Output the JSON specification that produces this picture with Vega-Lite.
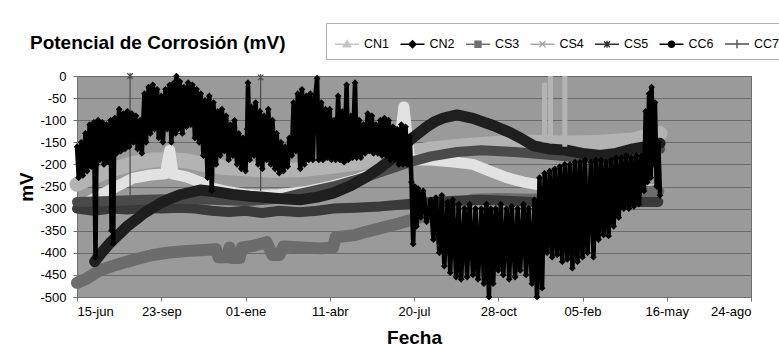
{
"$schema": "https://vega.github.io/schema/vega-lite/v6.json",
"width": 674, "height": 221,
"autosize": {"type": "none"},
"padding": {"left": 77, "top": 76, "right": 28, "bottom": 49},
"background": "white",
"title": {"text": "Potencial de Corrosión (mV)", "anchor": "start", "frame": "group", "dx": -47, "offset": -30, "fontSize": 19, "fontWeight": "bold", "font": "Liberation Sans", "color": "#000"},
"config": {"font": "Liberation Sans", "view": {"fill": "#9a9a9a", "stroke": "#707070", "strokeWidth": 1}},
"datasets": {
"spk": [
{"s":"CS5","d":63,"v":0,"b":-270},{"s":"CS5","d":218,"v":-3,"b":-260},
{"s":"CS4","d":555,"v":-15,"b":-150},{"s":"CS4","d":562,"v":0,"b":-150},{"s":"CS4","d":579,"v":0,"b":-160}
],
"main": [
{"s":"CS4","d":0,"v":-245},{"s":"CS4","d":15,"v":-232},{"s":"CS4","d":30,"v":-220},{"s":"CS4","d":50,"v":-207},{"s":"CS4","d":70,"v":-196},{"s":"CS4","d":90,"v":-190},{"s":"CS4","d":110,"v":-189},{"s":"CS4","d":130,"v":-192},{"s":"CS4","d":150,"v":-200},{"s":"CS4","d":175,"v":-207},{"s":"CS4","d":200,"v":-210},{"s":"CS4","d":230,"v":-213},{"s":"CS4","d":265,"v":-212},{"s":"CS4","d":300,"v":-205},{"s":"CS4","d":340,"v":-195},{"s":"CS4","d":380,"v":-178},{"s":"CS4","d":420,"v":-165},{"s":"CS4","d":460,"v":-158},{"s":"CS4","d":500,"v":-152},{"s":"CS4","d":540,"v":-150},{"s":"CS4","d":580,"v":-152},{"s":"CS4","d":620,"v":-150},{"s":"CS4","d":660,"v":-145},{"s":"CS4","d":680,"v":-135},{"s":"CS4","d":692,"v":-130},
{"s":"CN1","d":8,"v":-288},{"s":"CN1","d":13,"v":-285},{"s":"CN1","d":25,"v":-272},{"s":"CN1","d":39,"v":-258},{"s":"CN1","d":53,"v":-244},{"s":"CN1","d":67,"v":-231},{"s":"CN1","d":87,"v":-224},{"s":"CN1","d":105,"v":-221},{"s":"CN1","d":110,"v":-168},{"s":"CN1","d":114,"v":-222},{"s":"CN1","d":130,"v":-228},{"s":"CN1","d":146,"v":-240},{"s":"CN1","d":162,"v":-254},{"s":"CN1","d":180,"v":-262},{"s":"CN1","d":200,"v":-268},{"s":"CN1","d":220,"v":-270},{"s":"CN1","d":240,"v":-268},{"s":"CN1","d":270,"v":-262},{"s":"CN1","d":300,"v":-250},{"s":"CN1","d":330,"v":-235},{"s":"CN1","d":360,"v":-215},{"s":"CN1","d":380,"v":-195},{"s":"CN1","d":388,"v":-70},{"s":"CN1","d":395,"v":-190},{"s":"CN1","d":420,"v":-190},{"s":"CN1","d":450,"v":-195},{"s":"CN1","d":470,"v":-200},{"s":"CN1","d":490,"v":-215},{"s":"CN1","d":510,"v":-230},{"s":"CN1","d":530,"v":-240},{"s":"CN1","d":560,"v":-250},{"s":"CN1","d":600,"v":-255},{"s":"CN1","d":640,"v":-258},{"s":"CN1","d":690,"v":-258},
{"s":"CS3","d":0,"v":-468},{"s":"CS3","d":10,"v":-460},{"s":"CS3","d":27,"v":-440},{"s":"CS3","d":45,"v":-428},{"s":"CS3","d":67,"v":-416},{"s":"CS3","d":90,"v":-405},{"s":"CS3","d":107,"v":-400},{"s":"CS3","d":130,"v":-396},{"s":"CS3","d":146,"v":-394},{"s":"CS3","d":165,"v":-392},{"s":"CS3","d":168,"v":-410},{"s":"CS3","d":178,"v":-410},{"s":"CS3","d":181,"v":-388},{"s":"CS3","d":184,"v":-412},{"s":"CS3","d":193,"v":-412},{"s":"CS3","d":196,"v":-388},{"s":"CS3","d":210,"v":-384},{"s":"CS3","d":225,"v":-376},{"s":"CS3","d":232,"v":-405},{"s":"CS3","d":240,"v":-405},{"s":"CS3","d":245,"v":-386},{"s":"CS3","d":265,"v":-388},{"s":"CS3","d":290,"v":-390},{"s":"CS3","d":304,"v":-388},{"s":"CS3","d":307,"v":-365},{"s":"CS3","d":330,"v":-360},{"s":"CS3","d":344,"v":-352},{"s":"CS3","d":365,"v":-342},{"s":"CS3","d":383,"v":-333},{"s":"CS3","d":403,"v":-322},{"s":"CS3","d":423,"v":-311},{"s":"CS3","d":440,"v":-298},{"s":"CS3","d":451,"v":-288},{"s":"CS3","d":470,"v":-280},{"s":"CS3","d":500,"v":-278},{"s":"CS3","d":540,"v":-280},{"s":"CS3","d":580,"v":-275},{"s":"CS3","d":620,"v":-270},{"s":"CS3","d":660,"v":-265},{"s":"CS3","d":690,"v":-260},
{"s":"CC7","d":0,"v":-300},{"s":"CC7","d":20,"v":-305},{"s":"CC7","d":40,"v":-300},{"s":"CC7","d":60,"v":-302},{"s":"CC7","d":80,"v":-298},{"s":"CC7","d":100,"v":-300},{"s":"CC7","d":120,"v":-298},{"s":"CC7","d":140,"v":-300},{"s":"CC7","d":160,"v":-305},{"s":"CC7","d":180,"v":-308},{"s":"CC7","d":200,"v":-305},{"s":"CC7","d":220,"v":-310},{"s":"CC7","d":240,"v":-305},{"s":"CC7","d":265,"v":-308},{"s":"CC7","d":285,"v":-305},{"s":"CC7","d":304,"v":-300},{"s":"CC7","d":330,"v":-298},{"s":"CC7","d":360,"v":-295},{"s":"CC7","d":390,"v":-290},{"s":"CC7","d":420,"v":-285},{"s":"CC7","d":450,"v":-282},{"s":"CC7","d":480,"v":-280},{"s":"CC7","d":510,"v":-282},{"s":"CC7","d":540,"v":-285},{"s":"CC7","d":570,"v":-288},{"s":"CC7","d":600,"v":-290},{"s":"CC7","d":630,"v":-288},{"s":"CC7","d":660,"v":-285},{"s":"CC7","d":690,"v":-285},
{"s":"CS5","d":0,"v":-285},{"s":"CS5","d":40,"v":-283},{"s":"CS5","d":80,"v":-280},{"s":"CS5","d":120,"v":-278},{"s":"CS5","d":160,"v":-280},{"s":"CS5","d":200,"v":-283},{"s":"CS5","d":240,"v":-278},{"s":"CS5","d":265,"v":-266},{"s":"CS5","d":304,"v":-250},{"s":"CS5","d":344,"v":-228},{"s":"CS5","d":372,"v":-210},{"s":"CS5","d":395,"v":-195},{"s":"CS5","d":420,"v":-182},{"s":"CS5","d":451,"v":-172},{"s":"CS5","d":480,"v":-168},{"s":"CS5","d":520,"v":-172},{"s":"CS5","d":560,"v":-178},{"s":"CS5","d":600,"v":-185},{"s":"CS5","d":640,"v":-180},{"s":"CS5","d":692,"v":-165},
{"s":"CC6","d":21,"v":-420},{"s":"CC6","d":30,"v":-398},{"s":"CC6","d":39,"v":-378},{"s":"CC6","d":50,"v":-358},{"s":"CC6","d":59,"v":-341},{"s":"CC6","d":70,"v":-325},{"s":"CC6","d":79,"v":-311},{"s":"CC6","d":90,"v":-298},{"s":"CC6","d":99,"v":-288},{"s":"CC6","d":110,"v":-278},{"s":"CC6","d":122,"v":-269},{"s":"CC6","d":135,"v":-263},{"s":"CC6","d":146,"v":-258},{"s":"CC6","d":165,"v":-262},{"s":"CC6","d":185,"v":-268},{"s":"CC6","d":205,"v":-272},{"s":"CC6","d":225,"v":-275},{"s":"CC6","d":245,"v":-278},{"s":"CC6","d":265,"v":-280},{"s":"CC6","d":285,"v":-274},{"s":"CC6","d":304,"v":-265},{"s":"CC6","d":325,"v":-248},{"s":"CC6","d":344,"v":-228},{"s":"CC6","d":358,"v":-210},{"s":"CC6","d":372,"v":-190},{"s":"CC6","d":385,"v":-165},{"s":"CC6","d":395,"v":-145},{"s":"CC6","d":405,"v":-130},{"s":"CC6","d":415,"v":-115},{"s":"CC6","d":425,"v":-103},{"s":"CC6","d":435,"v":-95},{"s":"CC6","d":451,"v":-88},{"s":"CC6","d":470,"v":-96},{"s":"CC6","d":494,"v":-112},{"s":"CC6","d":514,"v":-128},{"s":"CC6","d":526,"v":-140},{"s":"CC6","d":542,"v":-158},{"s":"CC6","d":560,"v":-165},{"s":"CC6","d":581,"v":-168},{"s":"CC6","d":600,"v":-175},{"s":"CC6","d":621,"v":-180},{"s":"CC6","d":640,"v":-175},{"s":"CC6","d":660,"v":-165},{"s":"CC6","d":680,"v":-158},{"s":"CC6","d":692,"v":-152},
{"s":"CN2","d":0,"v":-160},{"s":"CN2","d":2,"v":-230},{"s":"CN2","d":5,"v":-150},{"s":"CN2","d":7,"v":-225},{"s":"CN2","d":10,"v":-130},{"s":"CN2","d":12,"v":-215},{"s":"CN2","d":15,"v":-110},{"s":"CN2","d":17,"v":-205},{"s":"CN2","d":20,"v":-105},{"s":"CN2","d":22,"v":-410},{"s":"CN2","d":23,"v":-200},{"s":"CN2","d":25,"v":-100},{"s":"CN2","d":27,"v":-190},{"s":"CN2","d":30,"v":-105},{"s":"CN2","d":32,"v":-200},{"s":"CN2","d":35,"v":-110},{"s":"CN2","d":37,"v":-195},{"s":"CN2","d":40,"v":-100},{"s":"CN2","d":41,"v":-350},{"s":"CN2","d":42,"v":-180},{"s":"CN2","d":43,"v":-380},{"s":"CN2","d":44,"v":-175},{"s":"CN2","d":45,"v":-95},{"s":"CN2","d":47,"v":-175},{"s":"CN2","d":50,"v":-75},{"s":"CN2","d":52,"v":-170},{"s":"CN2","d":55,"v":-85},{"s":"CN2","d":57,"v":-165},{"s":"CN2","d":60,"v":-80},{"s":"CN2","d":62,"v":-160},{"s":"CN2","d":65,"v":-85},{"s":"CN2","d":67,"v":-150},{"s":"CN2","d":70,"v":-90},{"s":"CN2","d":72,"v":-165},{"s":"CN2","d":75,"v":-100},{"s":"CN2","d":77,"v":-175},{"s":"CN2","d":80,"v":-40},{"s":"CN2","d":82,"v":-150},{"s":"CN2","d":85,"v":-25},{"s":"CN2","d":87,"v":-130},{"s":"CN2","d":90,"v":-20},{"s":"CN2","d":92,"v":-120},{"s":"CN2","d":95,"v":-30},{"s":"CN2","d":97,"v":-140},{"s":"CN2","d":100,"v":-45},{"s":"CN2","d":102,"v":-150},{"s":"CN2","d":105,"v":-30},{"s":"CN2","d":107,"v":-120},{"s":"CN2","d":110,"v":-20},{"s":"CN2","d":112,"v":-150},{"s":"CN2","d":115,"v":-15},{"s":"CN2","d":117,"v":-130},{"s":"CN2","d":118,"v":0},{"s":"CN2","d":120,"v":-120},{"s":"CN2","d":122,"v":-12},{"s":"CN2","d":125,"v":-130},{"s":"CN2","d":127,"v":-25},{"s":"CN2","d":130,"v":-115},{"s":"CN2","d":132,"v":-15},{"s":"CN2","d":135,"v":-110},{"s":"CN2","d":137,"v":-20},{"s":"CN2","d":140,"v":-140},{"s":"CN2","d":142,"v":-30},{"s":"CN2","d":145,"v":-150},{"s":"CN2","d":147,"v":-40},{"s":"CN2","d":150,"v":-180},{"s":"CN2","d":152,"v":-55},{"s":"CN2","d":155,"v":-230},{"s":"CN2","d":157,"v":-45},{"s":"CN2","d":160,"v":-260},{"s":"CN2","d":162,"v":-60},{"s":"CN2","d":165,"v":-200},{"s":"CN2","d":167,"v":-80},{"s":"CN2","d":170,"v":-180},{"s":"CN2","d":172,"v":-75},{"s":"CN2","d":175,"v":-170},{"s":"CN2","d":177,"v":-90},{"s":"CN2","d":180,"v":-190},{"s":"CN2","d":182,"v":-110},{"s":"CN2","d":185,"v":-180},{"s":"CN2","d":187,"v":-100},{"s":"CN2","d":190,"v":-200},{"s":"CN2","d":192,"v":-130},{"s":"CN2","d":195,"v":-210},{"s":"CN2","d":197,"v":-140},{"s":"CN2","d":200,"v":-215},{"s":"CN2","d":202,"v":-120},{"s":"CN2","d":203,"v":-15},{"s":"CN2","d":205,"v":-190},{"s":"CN2","d":207,"v":-70},{"s":"CN2","d":210,"v":-180},{"s":"CN2","d":212,"v":-60},{"s":"CN2","d":215,"v":-200},{"s":"CN2","d":217,"v":-80},{"s":"CN2","d":220,"v":-210},{"s":"CN2","d":222,"v":-90},{"s":"CN2","d":225,"v":-190},{"s":"CN2","d":227,"v":-75},{"s":"CN2","d":230,"v":-200},{"s":"CN2","d":232,"v":-100},{"s":"CN2","d":235,"v":-210},{"s":"CN2","d":237,"v":-130},{"s":"CN2","d":240,"v":-220},{"s":"CN2","d":242,"v":-150},{"s":"CN2","d":245,"v":-215},{"s":"CN2","d":247,"v":-160},{"s":"CN2","d":250,"v":-205},{"s":"CN2","d":252,"v":-140},{"s":"CN2","d":255,"v":-180},{"s":"CN2","d":257,"v":-60},{"s":"CN2","d":260,"v":-170},{"s":"CN2","d":262,"v":-40},{"s":"CN2","d":265,"v":-210},{"s":"CN2","d":267,"v":-30},{"s":"CN2","d":270,"v":-200},{"s":"CN2","d":272,"v":-45},{"s":"CN2","d":275,"v":-190},{"s":"CN2","d":277,"v":-40},{"s":"CN2","d":280,"v":-190},{"s":"CN2","d":282,"v":-60},{"s":"CN2","d":285,"v":-5},{"s":"CN2","d":287,"v":-190},{"s":"CN2","d":290,"v":-60},{"s":"CN2","d":292,"v":-190},{"s":"CN2","d":295,"v":-75},{"s":"CN2","d":297,"v":-185},{"s":"CN2","d":300,"v":-75},{"s":"CN2","d":302,"v":-190},{"s":"CN2","d":305,"v":-100},{"s":"CN2","d":307,"v":-190},{"s":"CN2","d":310,"v":-45},{"s":"CN2","d":312,"v":-190},{"s":"CN2","d":315,"v":-80},{"s":"CN2","d":317,"v":-195},{"s":"CN2","d":320,"v":-20},{"s":"CN2","d":322,"v":-190},{"s":"CN2","d":325,"v":-90},{"s":"CN2","d":327,"v":-185},{"s":"CN2","d":330,"v":-15},{"s":"CN2","d":332,"v":-185},{"s":"CN2","d":335,"v":-100},{"s":"CN2","d":337,"v":-185},{"s":"CN2","d":340,"v":-110},{"s":"CN2","d":342,"v":-175},{"s":"CN2","d":345,"v":-85},{"s":"CN2","d":347,"v":-170},{"s":"CN2","d":350,"v":-90},{"s":"CN2","d":352,"v":-175},{"s":"CN2","d":355,"v":-110},{"s":"CN2","d":357,"v":-175},{"s":"CN2","d":360,"v":-100},{"s":"CN2","d":362,"v":-180},{"s":"CN2","d":365,"v":-95},{"s":"CN2","d":367,"v":-180},{"s":"CN2","d":370,"v":-100},{"s":"CN2","d":372,"v":-190},{"s":"CN2","d":375,"v":-115},{"s":"CN2","d":377,"v":-190},{"s":"CN2","d":380,"v":-120},{"s":"CN2","d":382,"v":-200},{"s":"CN2","d":385,"v":-110},{"s":"CN2","d":387,"v":-200},{"s":"CN2","d":390,"v":-115},{"s":"CN2","d":392,"v":-200},{"s":"CN2","d":395,"v":-137},
{"s":"CN2","d":397,"v":-240},{"s":"CN2","d":399,"v":-380},{"s":"CN2","d":401,"v":-250},{"s":"CN2","d":403,"v":-340},{"s":"CN2","d":405,"v":-255},{"s":"CN2","d":408,"v":-320},{"s":"CN2","d":411,"v":-260},{"s":"CN2","d":415,"v":-330},{"s":"CN2","d":420,"v":-280},{"s":"CN2","d":423,"v":-370},{"s":"CN2","d":426,"v":-275},{"s":"CN2","d":430,"v":-400},{"s":"CN2","d":433,"v":-270},{"s":"CN2","d":436,"v":-430},{"s":"CN2","d":440,"v":-285},{"s":"CN2","d":443,"v":-445},{"s":"CN2","d":446,"v":-280},{"s":"CN2","d":450,"v":-455},{"s":"CN2","d":453,"v":-290},{"s":"CN2","d":456,"v":-460},{"s":"CN2","d":460,"v":-300},{"s":"CN2","d":463,"v":-455},{"s":"CN2","d":466,"v":-290},{"s":"CN2","d":470,"v":-450},{"s":"CN2","d":473,"v":-300},{"s":"CN2","d":476,"v":-460},{"s":"CN2","d":480,"v":-300},{"s":"CN2","d":483,"v":-470},{"s":"CN2","d":486,"v":-290},{"s":"CN2","d":489,"v":-500},{"s":"CN2","d":491,"v":-300},{"s":"CN2","d":494,"v":-470},{"s":"CN2","d":497,"v":-300},{"s":"CN2","d":500,"v":-440},{"s":"CN2","d":503,"v":-290},{"s":"CN2","d":506,"v":-450},{"s":"CN2","d":510,"v":-300},{"s":"CN2","d":513,"v":-460},{"s":"CN2","d":516,"v":-295},{"s":"CN2","d":520,"v":-455},{"s":"CN2","d":523,"v":-300},{"s":"CN2","d":526,"v":-440},{"s":"CN2","d":530,"v":-290},{"s":"CN2","d":533,"v":-450},{"s":"CN2","d":536,"v":-300},{"s":"CN2","d":540,"v":-470},{"s":"CN2","d":543,"v":-280},{"s":"CN2","d":546,"v":-500},{"s":"CN2","d":549,"v":-230},{"s":"CN2","d":552,"v":-480},{"s":"CN2","d":555,"v":-220},{"s":"CN2","d":558,"v":-400},{"s":"CN2","d":561,"v":-215},{"s":"CN2","d":564,"v":-410},{"s":"CN2","d":567,"v":-210},{"s":"CN2","d":570,"v":-405},{"s":"CN2","d":573,"v":-205},{"s":"CN2","d":576,"v":-420},{"s":"CN2","d":579,"v":-200},{"s":"CN2","d":582,"v":-415},{"s":"CN2","d":585,"v":-200},{"s":"CN2","d":588,"v":-435},{"s":"CN2","d":591,"v":-195},{"s":"CN2","d":594,"v":-420},{"s":"CN2","d":597,"v":-195},{"s":"CN2","d":600,"v":-410},{"s":"CN2","d":603,"v":-190},{"s":"CN2","d":606,"v":-400},{"s":"CN2","d":610,"v":-195},{"s":"CN2","d":613,"v":-410},{"s":"CN2","d":616,"v":-190},{"s":"CN2","d":619,"v":-370},{"s":"CN2","d":622,"v":-190},{"s":"CN2","d":625,"v":-360},{"s":"CN2","d":628,"v":-195},{"s":"CN2","d":631,"v":-362},{"s":"CN2","d":634,"v":-190},{"s":"CN2","d":637,"v":-340},{"s":"CN2","d":640,"v":-185},{"s":"CN2","d":643,"v":-320},{"s":"CN2","d":646,"v":-185},{"s":"CN2","d":649,"v":-300},{"s":"CN2","d":652,"v":-180},{"s":"CN2","d":655,"v":-300},{"s":"CN2","d":658,"v":-185},{"s":"CN2","d":661,"v":-295},{"s":"CN2","d":664,"v":-180},{"s":"CN2","d":667,"v":-290},{"s":"CN2","d":670,"v":-180},{"s":"CN2","d":673,"v":-260},{"s":"CN2","d":675,"v":-80},{"s":"CN2","d":677,"v":-240},{"s":"CN2","d":679,"v":-40},{"s":"CN2","d":681,"v":-230},{"s":"CN2","d":682,"v":-25},{"s":"CN2","d":684,"v":-200},{"s":"CN2","d":686,"v":-60},{"s":"CN2","d":688,"v":-250},{"s":"CN2","d":690,"v":-150},{"s":"CN2","d":692,"v":-270}
]
},
"data": {"name": "main"},
"encoding": {
 "x": {"field": "d", "type": "quantitative", "scale": {"domain": [0, 800], "nice": false, "zero": false},
   "axis": {"values": [0,100,200,300,400,500,600,700,800], "labelExpr": "['15-jun','23-sep','01-ene','11-abr','20-jul','28-oct','05-feb','16-may','24-ago'][round(datum.value/100)]", "grid": false, "domainColor": "#707070", "tickColor": "#707070", "tickSize": 4, "labelPadding": 4, "labelFont": "Liberation Sans", "labelFontSize": 13, "labelColor": "#000", "title": "Fecha", "titleFont": "Liberation Sans", "titleFontSize": 19, "titleFontWeight": "bold", "titleColor": "#000", "titlePadding": 10}},
 "y": {"field": "v", "type": "quantitative", "scale": {"domain": [-500, 0], "nice": false, "zero": false},
   "axis": {"values": [-500,-450,-400,-350,-300,-250,-200,-150,-100,-50,0], "labelExpr": "datum.value + ''", "grid": true, "gridColor": "#6a6a6a", "gridWidth": 1, "domainColor": "#707070", "tickColor": "#707070", "tickSize": 4, "labelPadding": 7, "labelFont": "Liberation Sans", "labelFontSize": 13, "labelColor": "#000", "title": "mV", "titleFont": "Liberation Sans", "titleFontSize": 19, "titleFontWeight": "bold", "titleColor": "#000", "titlePadding": 3}},
 "color": {"field": "s", "type": "nominal", "scale": {"domain": ["CC7","CC6","CS5","CS4","CS3","CN2","CN1"], "range": ["#3a3a3a","#1e1e1e","#4a4a4a","#b3b3b3","#6c6c6c","#000000","#e2e2e2"]}, "legend": null}
},
"layer": [
 {"transform": [{"filter": "datum.s === 'CS4'"}], "mark": {"type": "line", "strokeWidth": 15, "strokeJoin": "round", "strokeCap": "round"}},
 {"transform": [{"filter": "datum.s === 'CN1'"}], "mark": {"type": "line", "strokeWidth": 11, "strokeJoin": "round", "strokeCap": "round"}},
 {"transform": [{"filter": "datum.s === 'CS3'"}], "mark": {"type": "line", "strokeWidth": 12, "strokeJoin": "round", "strokeCap": "round"}},
 {"transform": [{"filter": "datum.s === 'CC7'"}], "mark": {"type": "line", "strokeWidth": 10, "strokeJoin": "round", "strokeCap": "round"}},
 {"transform": [{"filter": "datum.s === 'CS5'"}], "mark": {"type": "line", "strokeWidth": 10, "strokeJoin": "round", "strokeCap": "round"}},
 {"transform": [{"filter": "datum.s === 'CC6'"}], "mark": {"type": "line", "strokeWidth": 11, "strokeJoin": "round", "strokeCap": "round"}},
 {"data": {"name": "spk"}, "transform": [{"filter": "datum.s === 'CS4'"}], "mark": {"type": "rule", "strokeWidth": 5}, "encoding": {"y2": {"field": "b"}}},
 {"data": {"name": "spk"}, "transform": [{"filter": "datum.s === 'CS5'"}], "mark": {"type": "rule", "strokeWidth": 1.2}, "encoding": {"y2": {"field": "b"}}},
 {"data": {"name": "spk"}, "transform": [{"filter": "datum.s === 'CS5'"}], "mark": {"type": "point", "shape": "M-1,-1L1,1M-1,1L1,-1M0,-1.2V1.2", "filled": false, "size": 30, "strokeWidth": 1.2, "opacity": 1}},
 {"transform": [{"filter": "datum.s === 'CN2'"}], "mark": {"type": "line", "strokeWidth": 4.5}},
 {"transform": [{"filter": "datum.s === 'CN2'"}], "mark": {"type": "point", "shape": "diamond", "filled": true, "size": 45, "opacity": 1}},
 {"transform": [{"filter": "false"}], "mark": {"type": "point", "filled": true, "size": 576, "opacity": 1, "strokeWidth": 1.4},
  "encoding": {
   "shape": {"field": "s", "type": "nominal", "scale": {"domain": ["CN1","CN2","CS3","CS4","CS5","CC6","CC7"], "range": ["M-1,0H1M0,-0.3L0.3,0.22L-0.3,0.22Z","M-1,0H1M0,-0.3L0.3,0L0,0.3L-0.3,0Z","M-1,0H1M-0.25,-0.25H0.25V0.25H-0.25Z","M-1,0H1M-0.25,-0.25L0.25,0.25M-0.25,0.25L0.25,-0.25","M-1,0H1M-0.25,-0.25L0.25,0.25M-0.25,0.25L0.25,-0.25M0,-0.3V0.3","M-1,0H1M0.25,0A0.25,0.25,0,1,1,-0.25,0A0.25,0.25,0,1,1,0.25,0Z","M-1,0H1M0,-0.35V0.35"]},
     "legend": {"title": null, "orient": "none", "legendX": 249, "legendY": -53, "direction": "horizontal", "columns": 7, "symbolSize": 576, "symbolStrokeWidth": 1.4, "labelFont": "Liberation Sans", "labelFontSize": 12.5, "labelColor": "#000", "labelOffset": 4, "columnPadding": 7.5, "padding": 8, "strokeColor": "#b0b0b0", "fillColor": "#ffffff"}},
   "fill": {"field": "s", "type": "nominal", "scale": {"domain": ["CN1","CN2","CS3","CS4","CS5","CC6","CC7"], "range": ["#c4c4c4","#000000","#707070","#a8a8a8","#303030","#000000","#505050"]},
     "legend": {"title": null, "orient": "none", "legendX": 249, "legendY": -53, "direction": "horizontal", "columns": 7, "symbolSize": 576, "symbolStrokeWidth": 1.4, "labelFont": "Liberation Sans", "labelFontSize": 12.5, "labelColor": "#000", "labelOffset": 4, "columnPadding": 7.5, "padding": 8, "strokeColor": "#b0b0b0", "fillColor": "#ffffff"}},
   "stroke": {"field": "s", "type": "nominal", "scale": {"domain": ["CN1","CN2","CS3","CS4","CS5","CC6","CC7"], "range": ["#c4c4c4","#000000","#707070","#a8a8a8","#303030","#000000","#505050"]},
     "legend": {"title": null, "orient": "none", "legendX": 249, "legendY": -53, "direction": "horizontal", "columns": 7, "symbolSize": 576, "symbolStrokeWidth": 1.4, "labelFont": "Liberation Sans", "labelFontSize": 12.5, "labelColor": "#000", "labelOffset": 4, "columnPadding": 7.5, "padding": 8, "strokeColor": "#b0b0b0", "fillColor": "#ffffff"}}
  }}
]
}
